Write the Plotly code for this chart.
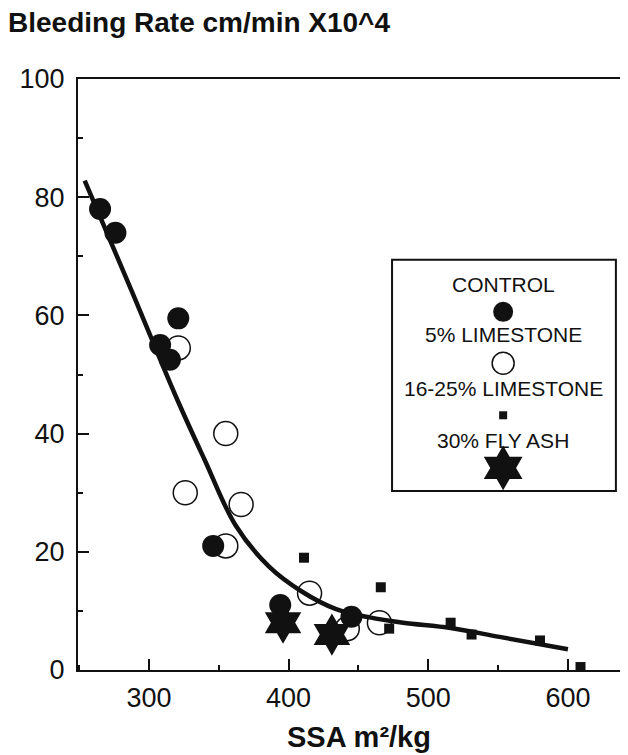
import plotly.graph_objects as go

# SSA (m2/kg) vs bleeding rate (cm/min x10^4)
control_x = [265, 276, 321, 308, 315, 346, 394, 445]
control_y = [78, 74, 59.5, 55, 52.5, 21, 11, 9]

lime_x = [321, 355, 355, 366, 326, 415, 442, 465]
lime_y = [54.5, 21, 40, 28, 30, 13, 7, 8]

lime25_x = [411, 466, 472, 516, 531, 580, 609]
lime25_y = [19, 14, 7, 8, 6, 5, 0.5]

flyash_x = [396, 431]
flyash_y = [8, 6]

fit_x = [254, 287, 320, 340, 362, 386, 410, 434, 458, 482, 516, 551, 600]
fit_y = [82.8, 64.5, 45.9, 35.5, 24.5, 17.5, 13.2, 10.3, 8.9, 8.0, 7.1, 5.6, 3.5]

legend_labels = ["CONTROL", "5% LIMESTONE", "16-25% LIMESTONE", "30% FLY ASH"]

FONT = "Liberation Sans, Arial, Helvetica, sans-serif"
INK = "#111111"

# the page body adds an 8px margin, so the figure is 8px smaller than the window
W, H = 620, 747

fig = go.Figure()

# open circles sit underneath the curve and the filled symbols
fig.add_trace(go.Scatter(x=lime_x, y=lime_y, mode="markers",
                         marker=dict(symbol="circle", size=24, color="white",
                                     line=dict(color=INK, width=1.5))))
fig.add_trace(go.Scatter(x=fit_x, y=fit_y, mode="lines",
                         line=dict(color=INK, width=4.5, shape="spline", smoothing=1.0)))
fig.add_trace(go.Scatter(x=control_x, y=control_y, mode="markers",
                         marker=dict(symbol="circle", size=22, color=INK, line=dict(width=0))))
fig.add_trace(go.Scatter(x=lime25_x, y=lime25_y, mode="markers",
                         marker=dict(symbol="square", size=10, color=INK, line=dict(width=0))))
fig.add_trace(go.Scatter(x=flyash_x, y=flyash_y, mode="markers",
                         marker=dict(symbol="hexagram", size=32, color=INK, line=dict(width=0))))

# hand drawn legend box (paper-like overlay axes for the symbols)
lx = 0.773
text_y = [0.653, 0.567, 0.477, 0.389]
sym_y = [0.606, 0.519, 0.431, 0.342]
fig.add_trace(go.Scatter(x=[lx], y=[sym_y[0]], xaxis="x2", yaxis="y2", mode="markers",
                         marker=dict(symbol="circle", size=20, color=INK, line=dict(width=0))))
fig.add_trace(go.Scatter(x=[lx], y=[sym_y[1]], xaxis="x2", yaxis="y2", mode="markers",
                         marker=dict(symbol="circle", size=22, color="white",
                                     line=dict(color=INK, width=1.5))))
fig.add_trace(go.Scatter(x=[lx], y=[sym_y[2]], xaxis="x2", yaxis="y2", mode="markers",
                         marker=dict(symbol="square", size=8, color=INK, line=dict(width=0))))
fig.add_trace(go.Scatter(x=[lx], y=[sym_y[3]], xaxis="x2", yaxis="y2", mode="markers",
                         marker=dict(symbol="hexagram", size=34, color=INK, line=dict(width=0))))

fig.add_shape(type="rect", xref="paper", yref="paper", x0=0.571, x1=0.978, y0=0.303, y1=0.694,
              line=dict(color=INK, width=2), fillcolor="rgba(0,0,0,0)")
for lab, ty in zip(legend_labels, text_y):
    fig.add_annotation(x=lx, y=ty, xref="paper", yref="paper", text=lab, showarrow=False,
                       xanchor="center", yanchor="middle", font=dict(family=FONT, size=21, color=INK))

# axis title below the x ticks
fig.add_annotation(x=0.511, y=-0.113, xref="paper", yref="paper", text="<b>SSA m²/kg</b>",
                   showarrow=False, xanchor="center", yanchor="middle",
                   font=dict(family=FONT, size=29, color=INK))

fig.update_layout(
    width=W, height=H,
    showlegend=False,
    plot_bgcolor="white",
    paper_bgcolor="white",
    margin=dict(l=70, r=0, t=71, b=85),
    title=dict(text="<b>Bleeding Rate cm/min X10^4</b>", x=0, xanchor="left",
               y=1 - 14.5 / H, yanchor="middle", font=dict(family=FONT, size=28, color=INK)),
    xaxis=dict(
        range=[249.2, 643], tick0=0, dtick=100,
        showgrid=False, zeroline=False,
        showline=True, linecolor=INK, linewidth=2, mirror=True,
        ticks="inside", ticklen=11, tickwidth=1.5, tickcolor=INK,
        minor=dict(ticks="inside", ticklen=5, tickwidth=1.5, tickcolor=INK, dtick=50, showgrid=False),
        ticklabelstandoff=3,
        tickfont=dict(family=FONT, size=27, color=INK),
    ),
    yaxis=dict(
        range=[0, 100], tick0=0, dtick=20,
        showgrid=False, zeroline=False,
        showline=True, linecolor=INK, linewidth=2, mirror=False,
        ticks="inside", ticklen=11, tickwidth=1.5, tickcolor=INK,
        minor=dict(ticks="inside", ticklen=5, tickwidth=1.5, tickcolor=INK, dtick=10, showgrid=False),
        ticklabelstandoff=6,
        tickfont=dict(family=FONT, size=27, color=INK),
    ),
    xaxis2=dict(range=[0, 1], overlaying="x", visible=False, fixedrange=True),
    yaxis2=dict(range=[0, 1], overlaying="y", visible=False, fixedrange=True),
)

fig.write_html("out.html")
